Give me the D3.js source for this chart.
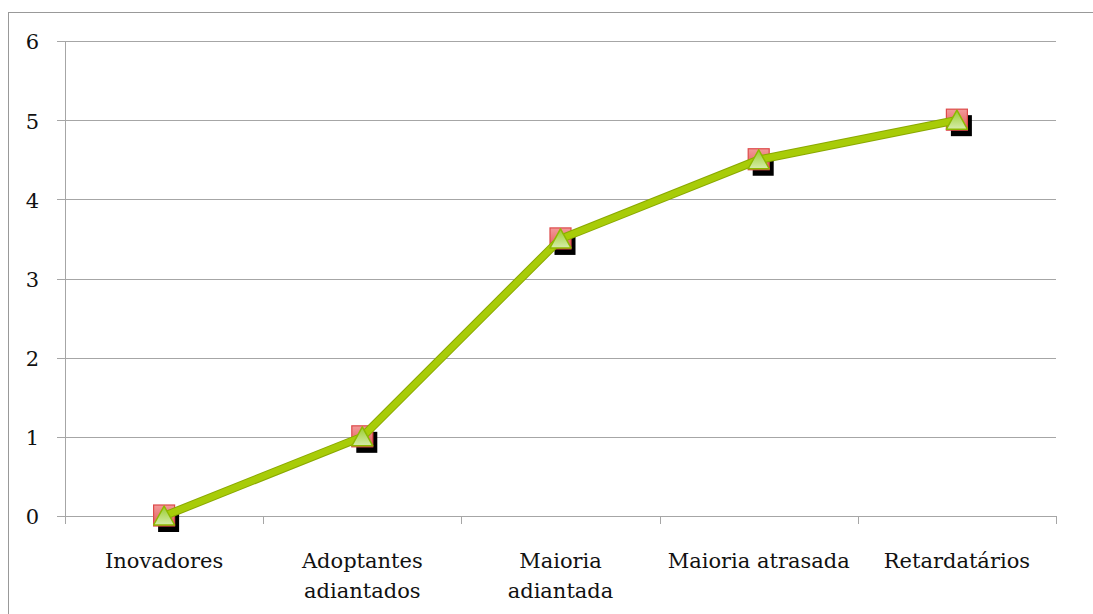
<!DOCTYPE html>
<html>
<head>
<meta charset="utf-8">
<script src="https://cdn.jsdelivr.net/npm/d3@7"></script>
<style>
  body { margin: 0; background: #fff; }
  svg { display: block; }
</style>
</head>
<body>
<svg id="chart" width="1093" height="614"></svg>
<script>
const categories = [["Inovadores"], ["Adoptantes", "adiantados"], ["Maioria", "adiantada"], ["Maioria atrasada"], ["Retardatários"]];
const values = [0, 1, 3.5, 4.5, 5];
const yTicks = [0, 1, 2, 3, 4, 5, 6];

const svg = d3.select("#chart");
const margin = { left: 65, right: 37, top: 41, bottom: 98 };
const width = 1093, height = 614;

// outer frame
svg.append("rect")
    .attr("x", 8.5).attr("y", 12.5)
    .attr("width", width).attr("height", height)
    .attr("fill", "none").attr("stroke", "#999").attr("stroke-width", 1);

const x = d3.scaleBand()
    .domain(categories.map((d, i) => i))
    .range([margin.left, width - margin.right]);

const y = d3.scaleLinear()
    .domain([0, 6])
    .range([height - margin.bottom, margin.top]);

const font = "DejaVu Serif";

// gridlines + y labels
const grid = svg.append("g");
grid.selectAll("line")
    .data(yTicks)
    .join("line")
    .attr("x1", margin.left - 8).attr("x2", width - margin.right)
    .attr("y1", d => Math.round(y(d)) + 0.5).attr("y2", d => Math.round(y(d)) + 0.5)
    .attr("stroke", "#a6a6a6").attr("stroke-width", 1);

grid.selectAll("text")
    .data(yTicks)
    .join("text")
    .attr("x", 39).attr("y", d => y(d) + 1)
    .attr("dy", "0.35em")
    .attr("text-anchor", "end")
    .attr("font-family", font).attr("font-size", 21)
    .attr("fill", "#111")
    .text(d => d);

// y axis line
svg.append("line")
    .attr("x1", margin.left + 0.5).attr("x2", margin.left + 0.5)
    .attr("y1", margin.top).attr("y2", y(0))
    .attr("stroke", "#a6a6a6");

// x ticks at band edges
const edges = categories.map((d, i) => x(i)).concat([width - margin.right]);
svg.append("g").selectAll("line")
    .data(edges)
    .join("line")
    .attr("x1", d => Math.round(d) + 0.5).attr("x2", d => Math.round(d) + 0.5)
    .attr("y1", y(0)).attr("y2", y(0) + 8)
    .attr("stroke", "#a6a6a6");

// category labels
svg.append("g").selectAll("text")
    .data(categories)
    .join("text")
    .attr("text-anchor", "middle")
    .attr("font-family", font).attr("font-size", 21)
    .attr("fill", "#111")
    .each(function(lines, i) {
        d3.select(this).selectAll("tspan")
            .data(lines)
            .join("tspan")
            .attr("x", x(i) + x.bandwidth() / 2)
            .attr("y", (d, j) => 568 + j * 30)
            .text(d => d);
    });

const cx = i => x(i) + x.bandwidth() / 2;

// gradients
const defs = svg.append("defs");
const rg = defs.append("linearGradient").attr("id", "redg").attr("x1", 0).attr("y1", 0).attr("x2", 0).attr("y2", 1);
rg.append("stop").attr("offset", "0%").attr("stop-color", "#f39a9a");
rg.append("stop").attr("offset", "100%").attr("stop-color", "#e25858");
const gg = defs.append("linearGradient").attr("id", "greeng").attr("x1", 0).attr("y1", 0).attr("x2", 0).attr("y2", 1);
gg.append("stop").attr("offset", "0%").attr("stop-color", "#98cc2c");
gg.append("stop").attr("offset", "100%").attr("stop-color", "#d6ecaa");

// series 1: black squares (offset)
svg.append("g").selectAll("rect")
    .data(values)
    .join("rect")
    .attr("x", (d, i) => cx(i) - 6).attr("y", d => y(d) - 5)
    .attr("width", 21).attr("height", 21)
    .attr("fill", "#000");

// series 2: red squares
svg.append("g").selectAll("rect")
    .data(values)
    .join("rect")
    .attr("x", (d, i) => cx(i) - 10.5).attr("y", d => y(d) - 11)
    .attr("width", 21).attr("height", 21)
    .attr("fill", "url(#redg)")
    .attr("stroke", "#dd4a4a").attr("stroke-width", 1.2);

// series 3: green line
const line = d3.line().x((d, i) => cx(i)).y(d => y(d));
svg.append("path")
    .datum(values)
    .attr("d", line)
    .attr("fill", "none")
    .attr("stroke", "#8aa800").attr("stroke-width", 8.5)
    .attr("stroke-linejoin", "round");
svg.append("path")
    .datum(values)
    .attr("d", line)
    .attr("fill", "none")
    .attr("stroke", "#a8cc08").attr("stroke-width", 6.5)
    .attr("stroke-linejoin", "round");

// triangles
svg.append("g").selectAll("path")
    .data(values)
    .join("path")
    .attr("d", (d, i) => {
        const px = cx(i), py = y(d);
        return `M${px},${py - 10}L${px + 10.5},${py + 9}L${px - 10.5},${py + 9}Z`;
    })
    .attr("fill", "url(#greeng)")
    .attr("stroke", "#8db800").attr("stroke-width", 1.5)
    .attr("stroke-linejoin", "round");
</script>
</body>
</html>
